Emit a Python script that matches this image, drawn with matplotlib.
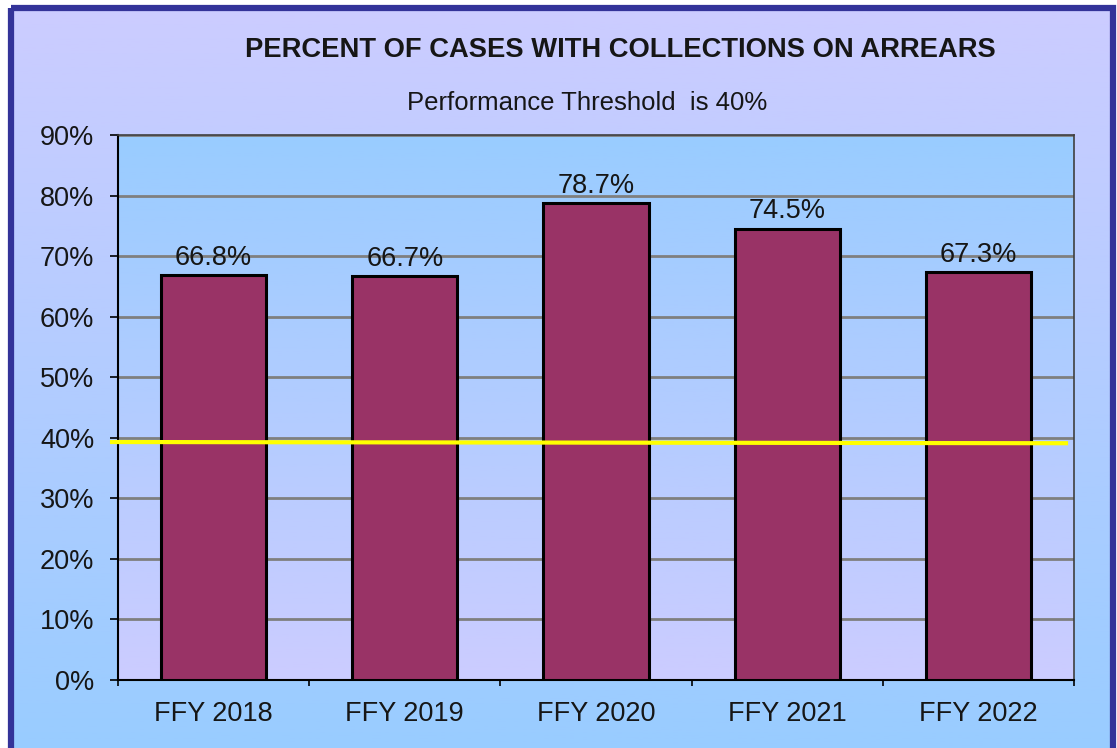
import numpy as np
import matplotlib
matplotlib.use("Agg")
import matplotlib.pyplot as plt
from matplotlib.colors import LinearSegmentedColormap
from matplotlib.patches import Rectangle

# data
years = ["FFY 2018", "FFY 2019", "FFY 2020", "FFY 2021", "FFY 2022"]
pct = [66.8, 66.7, 78.7, 74.5, 67.3]
threshold = [39.3, 39.1]  # yellow line, left end / right end (drawn slightly sloped)
y_ticks = [0, 10, 20, 30, 40, 50, 60, 70, 80, 90]

title = "PERCENT OF CASES WITH COLLECTIONS ON ARREARS"
subtitle = "Performance Threshold  is 40%"

plt.rcParams['font.family'] = ['Liberation Sans', 'DejaVu Sans']
TXT = '#161616'

W, H = 1117, 748
fig = plt.figure(figsize=(W / 100, H / 100), dpi=100)
fig.patch.set_facecolor('white')

# chart-area background: lavender at top -> light blue at bottom
bg = fig.add_axes([0, 0, 1, 1], zorder=-10)
bg.set_axis_off()
bg.set_xlim(0, W)
bg.set_ylim(H, 0)
grad = np.linspace(0, 1, 256).reshape(-1, 1)
fig_cmap = LinearSegmentedColormap.from_list('figbg', ['#CCCCFF', '#99CCFF'])
bg.imshow(grad, cmap=fig_cmap, extent=(11, W - 4, H, 8), aspect='auto')
bg.add_patch(Rectangle((11, 8), W - 15, H + 20, fill=False,
                       edgecolor='#333399', lw=4.5, clip_on=False))

# plot area
ax = fig.add_axes([118 / W, 68 / H, 956 / W, 545 / H])
ax.set_facecolor('none')
plot_cmap = LinearSegmentedColormap.from_list('plotbg', ['#99CCFF', '#CCCCFF'])
ax.imshow(grad, cmap=plot_cmap, extent=(0, 1, 0, 1), transform=ax.transAxes,
          aspect='auto', zorder=-1)

x = np.arange(len(years))
ax.bar(x, pct, width=0.55, color='#993366', edgecolor='black', linewidth=2.2, zorder=3)

for xi, v in zip(x, pct):
    ax.annotate(f"{v}%", (xi, v), xytext=(0, 7.5), textcoords='offset points',
                ha='center', va='baseline', fontsize=19.5, color=TXT)

# threshold line (runs a bit past the left axis, stops short of the right)
x0, x1 = -0.5, len(years) - 0.5
ax.plot([x0 - 0.042, x1 - 0.031], threshold, color='#FFFF00', lw=3,
        solid_capstyle='butt', zorder=4, clip_on=False)

ax.set_xlim(x0, x1)
ax.set_ylim(0, 90)
ax.set_yticks(y_ticks)
ax.set_yticklabels([f"{v}%" for v in y_ticks])
ax.set_xticks(x)
ax.set_xticklabels(years)
ax.set_xticks(np.arange(x0, x1 + 0.5, 1), minor=True)

ax.yaxis.grid(True, color='#7f7f7f', lw=2)
ax.set_axisbelow(True)

ax.tick_params(axis='y', length=6, width=1.2, direction='out', pad=11,
               labelsize=19.5, labelcolor=TXT)
ax.tick_params(axis='x', which='major', length=0, pad=15, labelsize=19.5, labelcolor=TXT)
ax.tick_params(axis='x', which='minor', length=4.5, width=1.2, direction='out')

for side in ('left', 'bottom'):
    ax.spines[side].set_color('black')
    ax.spines[side].set_linewidth(1.5)
for side in ('top', 'right'):
    ax.spines[side].set_color('#404040')
    ax.spines[side].set_linewidth(1.2)

fig.text(620 / W, 1 - 50 / H, title, ha='center', va='center',
         fontsize=19.7, fontweight='bold', color=TXT)
fig.text(587 / W, 1 - 103 / H, subtitle, ha='center', va='center',
         fontsize=18.5, color=TXT)

fig.savefig('out.png', dpi=100)
